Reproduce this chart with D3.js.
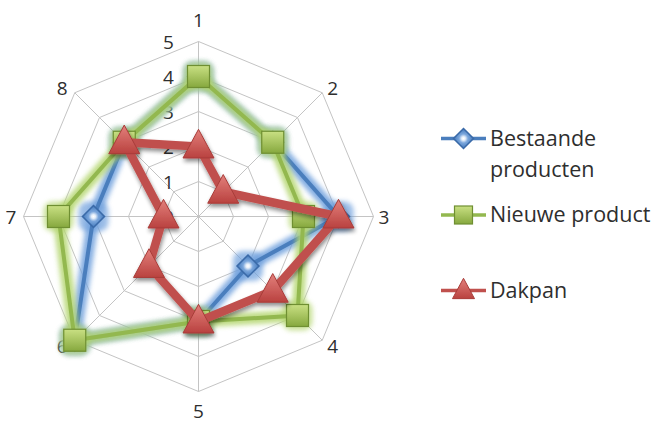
<!DOCTYPE html>
<html><head><meta charset="utf-8">
<script src="https://cdn.jsdelivr.net/npm/d3@7"></script>
<style>body{margin:0;background:#fff;}svg{display:block;}text{font-family:"Open Sans",sans-serif;fill:#2e2e2e;}</style>
</head><body><svg id="c" width="655" height="423"></svg>
<script>
const axes = ["1","2","3","4","5","6","7","8"];
const ticks = [0,1,2,3,4,5];
const seriesNames = ["Bestaande producten","Nieuwe product","Dakpan"];
const bestaande = [4,3,4,2,3,5,3,3];
const nieuwe = [4,3,3,4,3,5,4,3];
const dakpan = [2,1,4,3,3,2,1,3];

const svg = d3.select("#c");
const cx = 198.5, cy = 216.5, R = 175;
const r = d3.scaleLinear().domain([0,5]).range([0,R]);
const ang = d3.scaleLinear().domain([0,axes.length]).range([0,2*Math.PI]);
const pt = (i,v)=>[cx+r(v)*Math.sin(ang(i)), cy-r(v)*Math.cos(ang(i))];

const defs = svg.append("defs");
const glow = defs.append("filter").attr("id","glow").attr("x","-20%").attr("y","-20%").attr("width","140%").attr("height","140%");
glow.append("feGaussianBlur").attr("stdDeviation",2.8);
const sh = defs.append("filter").attr("id","shadow").attr("x","-20%").attr("y","-20%").attr("width","140%").attr("height","140%");
sh.append("feGaussianBlur").attr("in","SourceAlpha").attr("stdDeviation",2).attr("result","b");
sh.append("feOffset").attr("in","b").attr("dx",1).attr("dy",3).attr("result","o");
sh.append("feComponentTransfer").attr("in","o").attr("result","o2").append("feFuncA").attr("type","linear").attr("slope",0.45);
const mg = sh.append("feMerge"); mg.append("feMergeNode").attr("in","o2"); mg.append("feMergeNode").attr("in","SourceGraphic");

function grad(id, c1, c2){
  const g = defs.append("linearGradient").attr("id",id).attr("x1",0).attr("y1",0).attr("x2",0).attr("y2",1);
  g.append("stop").attr("offset","0%").attr("stop-color",c1);
  g.append("stop").attr("offset","100%").attr("stop-color",c2);
}
grad("gG","#c9e083","#86a83e");
grad("gR","#e3807c","#b9423f");
const rg = defs.append("radialGradient").attr("id","gBd");
rg.append("stop").attr("offset","0%").attr("stop-color","#ffffff");
rg.append("stop").attr("offset","18%").attr("stop-color","#e6effa");
rg.append("stop").attr("offset","45%").attr("stop-color","#7aa6dc");
rg.append("stop").attr("offset","100%").attr("stop-color","#4177ba");

// grid
const grid = svg.append("g");
ticks.filter(t=>t>0).forEach(t=>{
  grid.append("polygon").attr("points", axes.map((a,i)=>pt(i,t).join(",")).join(" "))
    .attr("fill","none").attr("stroke","#c4c4c4").attr("stroke-width",1);
});
axes.forEach((a,i)=>{
  const p = pt(i,5);
  grid.append("line").attr("x1",cx).attr("y1",cy).attr("x2",p[0]).attr("y2",p[1]).attr("stroke","#c4c4c4");
});
// tick labels
ticks.forEach(t=>{
  svg.append("text").attr("x",cx-30).attr("y",cy-r(t)+7).attr("text-anchor","middle")
    .attr("font-size",19).text(t);
});
// axis labels
axes.forEach((a,i)=>{
  const p = pt(i,5);
  const s = Math.sin(ang(i)), c = Math.cos(ang(i));
  const card = Math.abs(s)<0.01 || Math.abs(c)<0.01;
  const dx = s>0.01 ? 10.5 : (s<-0.01 ? -12.5 : 0);
  const dy = card ? (c<-0.5 ? 19.5 : -c*21.5) : (c>0 ? -4.5 : 6);
  svg.append("text").attr("x",p[0]+dx).attr("y",p[1]+dy+7).attr("text-anchor","middle")
    .attr("font-size",19).text(a);
});

const line = d3.line().curve(d3.curveLinearClosed);
const series = [
  {name:seriesNames[0], vals:bestaande, color:"#4a7ebd", glow:"#6fa0dd", w:4, marker:"diamond"},
  {name:seriesNames[1], vals:nieuwe, color:"#93b84f", glow:"#b4d66f", w:4, marker:"square"},
  {name:seriesNames[2], vals:dakpan, color:"#c0504d", glow:null, w:8.5, marker:"triangle"}
];
function marker(g, type, x, y, s){
  if(type==="diamond"){
    g.append("path").attr("d",`M${x},${y-s}L${x+s},${y}L${x},${y+s}L${x-s},${y}Z`)
      .attr("fill","url(#gBd)").attr("stroke","#3a6aa8").attr("stroke-width",1.5);
  } else if(type==="square"){
    g.append("rect").attr("x",x-s).attr("y",y-s).attr("width",2*s).attr("height",2*s)
      .attr("fill","url(#gG)").attr("stroke","#6f8f32").attr("stroke-width",1.2);
  } else {
    const h = s*1.85;
    g.append("path").attr("d",`M${x},${y-h*0.6}L${x+s},${y+h*0.4}L${x-s},${y+h*0.4}Z`)
      .attr("fill","url(#gR)").attr("stroke","#a83c39").attr("stroke-width",1);
  }
}
series.forEach(s=>{
  const pts = s.vals.map((v,i)=>pt(i,v));
  const g = svg.append("g");
  if(s.glow){
    g.append("path").attr("d",line(pts)).attr("fill","none").attr("stroke",s.glow)
      .attr("stroke-width",12).attr("stroke-linejoin","round").attr("opacity",0.85).attr("filter","url(#glow)");
    pts.forEach(p=>{
      g.append("rect").attr("x",p[0]-15).attr("y",p[1]-15).attr("width",30).attr("height",30).attr("rx",9)
        .attr("fill",s.glow).attr("opacity",0.7).attr("filter","url(#glow)");
    });
  }
  const gl = svg.append("g").attr("filter", s.glow? null : "url(#shadow)");
  gl.append("path").attr("d",line(pts)).attr("fill","none").attr("stroke",s.color)
    .attr("stroke-width",s.w).attr("stroke-linejoin","miter");
  pts.forEach(p=>marker(gl, s.marker, p[0], p[1], s.marker==="triangle"?15.5:11));
});

// legend
const lg = svg.append("g");
const legY = [138.5, 215, 290.5];
series.forEach((s,k)=>{
  const y = legY[k];
  const g = lg.append("g");
  g.append("line").attr("x1",441).attr("x2",486).attr("y1",y).attr("y2",y).attr("stroke",s.color).attr("stroke-width",3.5);
  marker(g, s.marker, 463.5, y, s.marker==="triangle"?11:(s.marker==="square"?9:10));
  const t = lg.append("text").attr("x",490).attr("y",y+7).attr("font-size",21.5);
  if(k===0){
    t.append("tspan").attr("x",490).text("Bestaande");
    t.append("tspan").attr("x",490).attr("dy",31).text("producten");
  } else t.text(s.name);
});
</script></body></html>
